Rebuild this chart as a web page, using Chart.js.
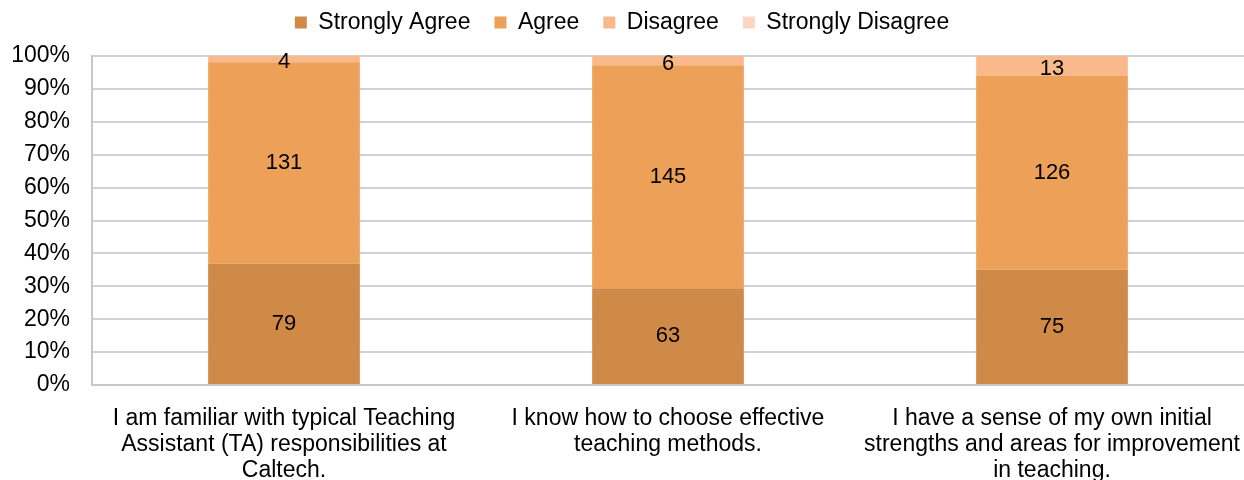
<!DOCTYPE html>
<html>
<head>
<meta charset="utf-8">
<script src="https://cdn.jsdelivr.net/npm/chart.js@4/dist/chart.umd.min.js"></script>
<style>
  html, body { margin: 0; padding: 0; background: #fff; }
  #wrap { width: 1244px; height: 480px; }
</style>
</head>
<body>
<div id="wrap"><canvas id="grafik"></canvas></div>
<script>
// data
const kategori = [
    ['I am familiar with typical Teaching', 'Assistant (TA) responsibilities at', 'Caltech.'],
    ['I know how to choose effective', 'teaching methods.'],
    ['I have a sense of my own initial', 'strengths and areas for improvement', 'in teaching.']
];
const stronglyAgree    = [79, 63, 75];
const agree            = [131, 145, 126];
const disagree         = [4, 6, 13];
const stronglyDisagree = [0, 0, 0];
const yTicks = [0, 10, 20, 30, 40, 50, 60, 70, 80, 90, 100];

const seri = [
    { label: 'Strongly Agree',    jumlah: stronglyAgree,    warna: '#CF8A48' },
    { label: 'Agree',             jumlah: agree,            warna: '#EDA057' },
    { label: 'Disagree',          jumlah: disagree,         warna: '#F9B98B' },
    { label: 'Strongly Disagree', jumlah: stronglyDisagree, warna: '#FCD6C2' }
];

// total per kategori untuk 100% stacked
const total = kategori.map(function (_, i) {
    return seri.reduce(function (s, d) { return s + d.jumlah[i]; }, 0);
});

// ── Plugin label angka di tengah segmen ─────────────────────
const labelSegmen = {
    id: 'labelSegmen',
    afterDatasetsDraw: function (chart) {
        const ctx = chart.ctx;
        ctx.save();
        ctx.font = '22px "Liberation Sans", Arial, sans-serif';
        ctx.fillStyle = '#000';
        ctx.textAlign = 'center';
        ctx.textBaseline = 'middle';
        chart.data.datasets.forEach(function (ds, di) {
            chart.getDatasetMeta(di).data.forEach(function (bar, i) {
                const n = seri[di].jumlah[i];
                if (!n) return;
                const yTengah = (bar.y + bar.base) / 2;
                ctx.fillText(String(n), bar.x, yTengah + (n < 20 ? 3 : 0));
            });
        });
        ctx.restore();
    }
};

// ── Legend digeser ke atas, tinggi kotak tetap ──────────────
const legendRapat = {
    id: 'legendRapat',
    afterInit: function (chart) {
        const lg = chart.legend;
        if (!lg) return;
        const fitAsli = lg.fit, drawAsli = lg.draw;
        lg.fit = function () { fitAsli.call(this); this.height = 56; };
        lg.draw = function () {
            const c = this.ctx;
            c.save(); c.translate(0, -13); drawAsli.call(this); c.restore();
        };
    }
};

const fontDasar = { family: '"Liberation Sans", Arial, sans-serif', size: 23, lineHeight: 1.15 };

new Chart(document.getElementById('grafik').getContext('2d'), {
    type: 'bar',
    data: {
        labels: kategori,
        datasets: seri.map(function (d) {
            return {
                label: d.label,
                data: d.jumlah.map(function (v, i) { return v / total[i] * 100; }),
                backgroundColor: d.warna,
                borderWidth: 0,
                categoryPercentage: 1,
                barPercentage: 0.395
            };
        })
    },
    options: {
        responsive: true, maintainAspectRatio: false, animation: false,
        layout: { padding: 0 },
        plugins: {
            legend: {
                position: 'top',
                labels: { font: fontDasar, color: '#000', boxWidth: 12, boxHeight: 12, padding: 24 }
            },
            tooltip: { enabled: false }
        },
        scales: {
            x: {
                stacked: true,
                grid: { display: false },
                border: { color: '#c8c8c8', width: 2 },
                ticks: { font: fontDasar, color: '#000', maxRotation: 0, autoSkip: false, padding: 12 },
                afterFit: function (s) { s.height = 95; s.paddingLeft = 0; s.paddingRight = 0; }
            },
            y: {
                stacked: true, min: 0, max: 100,
                afterBuildTicks: function (ax) { ax.ticks = yTicks.map(function (v) { return { value: v }; }); },
                grid: { color: '#d2d2d2', lineWidth: 2, drawTicks: false },
                border: { color: '#c8c8c8', width: 2 },
                ticks: { font: fontDasar, color: '#000', padding: 22, callback: function (v) { return v + '%'; } },
                afterFit: function (s) { s.width = 92; }
            }
        }
    },
    plugins: [labelSegmen, legendRapat]
});
</script>
</body>
</html>
